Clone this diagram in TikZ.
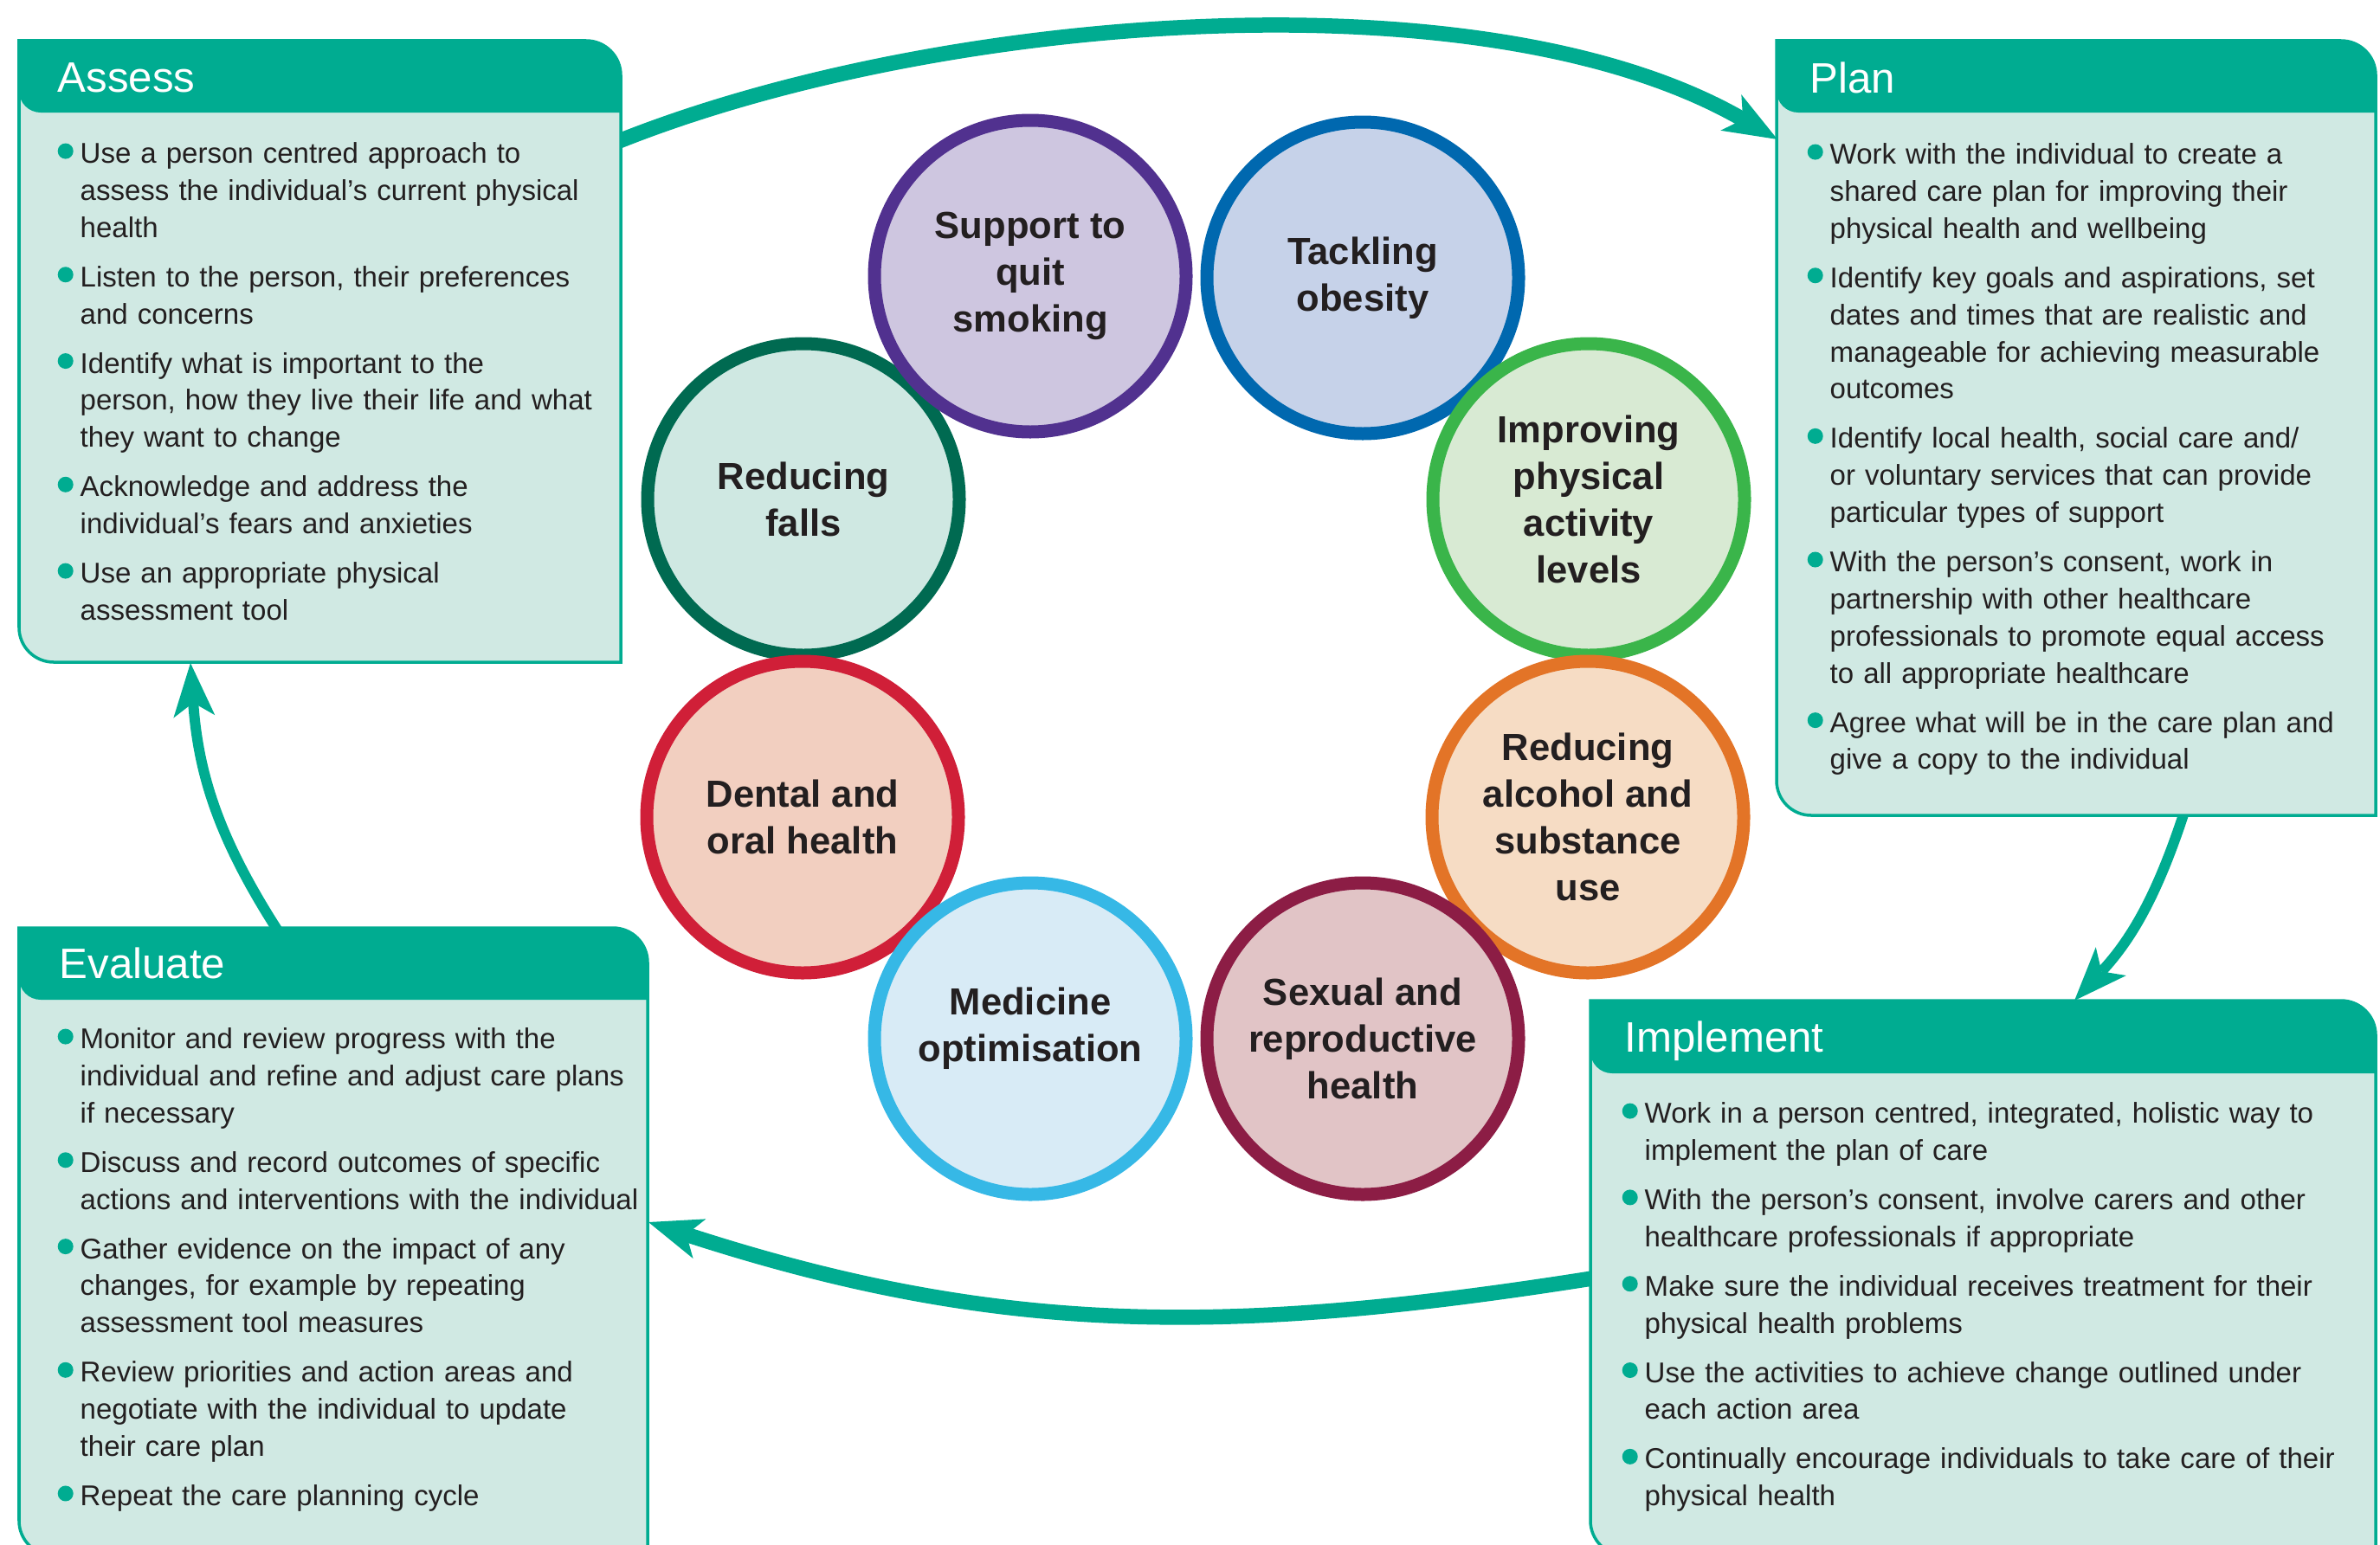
\documentclass[tikz,border=0pt]{standalone}
\usepackage{fontspec}
\setmainfont{Liberation Sans}
\usetikzlibrary{arrows.meta}

\definecolor{cycteal}{HTML}{00AC91}
\definecolor{boxfill}{HTML}{D0E9E3}
\definecolor{ink}{HTML}{231F20}
\definecolor{smokeline}{HTML}{51318F}\definecolor{smokefill}{HTML}{CEC6E0}
\definecolor{obeseline}{HTML}{0068AF}\definecolor{obesefill}{HTML}{C6D2E9}
\definecolor{activeline}{HTML}{3AB54A}\definecolor{activefill}{HTML}{D8EAD3}
\definecolor{alcoline}{HTML}{E37427}\definecolor{alcofill}{HTML}{F6DCC4}
\definecolor{sexline}{HTML}{8C1D45}\definecolor{sexfill}{HTML}{E1C4C6}
\definecolor{medline}{HTML}{36B8E6}\definecolor{medfill}{HTML}{D8EBF6}
\definecolor{dentline}{HTML}{D01F38}\definecolor{dentfill}{HTML}{F2CFC0}
\definecolor{fallline}{HTML}{006A51}\definecolor{fallfill}{HTML}{CFE8E2}

% one bullet point of a stage box
\newcommand{\pnt}[1]{\par\leftskip=0.26cm\hyphenpenalty=10000\noindent\hspace*{-0.26cm}%
  \makebox[0.26cm][l]{\tikz[baseline=-1.4mm]\fill[cycteal] (0.09,0) circle (0.09);}\strut#1\par\vspace{4pt}}

\tikzset{
  boxbody/.style={fill=boxfill, draw=cycteal, line width=1pt},
  boxhead/.style={fill=cycteal},
  stagehead/.style={font=\fontsize{14}{16}\selectfont, text=white, inner sep=0pt, anchor=base west},
  itemlist/.style={font=\fontsize{9.4}{12.2}\selectfont, text=ink, inner sep=0pt, anchor=north west},
  topic/.style={circle, line width=0.15cm, minimum size=3.6cm, inner sep=0pt, align=center,
    font=\fontsize{12.4}{15.3}\selectfont\bfseries, text=ink},
  bigarrow/.style={draw=cycteal, line width=0.175cm,
    -{Stealth[length=6.2mm, width=4.8mm, inset=1.6mm, line width=0pt]}},
  smallarrow/.style={draw=cycteal, line width=0.12cm,
    -{Stealth[length=6.2mm, width=4.8mm, inset=1.6mm, line width=0pt]}}
}

\begin{document}
\begin{tikzpicture}
\useasboundingbox (0,0) rectangle (27.49,-17.84);

% arrow ends
\coordinate (assessout) at (7.10,-1.65);
\coordinate (planin) at (20.53,-1.61);
\coordinate (planout) at (25.24,-9.35);
\coordinate (implin) at (23.96,-11.56);
\coordinate (implout) at (18.45,-14.76);
\coordinate (evalin) at (7.49,-14.12);
\coordinate (evalout) at (3.24,-10.80);
\coordinate (assessin) at (2.20,-7.66);

\draw[bigarrow] (assessout) to[out=22,in=150,looseness=0.75] (planin);
\draw[smallarrow] (planout) to[out=-108,in=47] (implin);
\draw[bigarrow] (implout) to[out=189,in=-18] (evalin);
\draw[smallarrow] (evalout) to[out=123,in=-86] (assessin);

% Assess
\filldraw[boxbody] (0.22,-0.47) -- (6.77,-0.47) arc[start angle=90,end angle=0,radius=0.4]
  -- (7.17,-7.65) -- (0.62,-7.65) arc[start angle=270,end angle=180,radius=0.4] -- cycle;
\fill[boxhead] (0.22,-0.47) -- (6.77,-0.47) arc[start angle=90,end angle=0,radius=0.4]
  -- (7.17,-1.30) -- (0.47,-1.30) arc[start angle=270,end angle=180,radius=0.25] -- cycle;
\node[stagehead] (assess) at (0.66,-1.06) {Assess};
\node[itemlist, text width=6.6cm] (assesslist) at (0.66,-1.45) {%
\pnt{Use a person centred approach to\\assess the individual’s current physical\\health}
\pnt{Listen to the person, their preferences\\and concerns}
\pnt{Identify what is important to the\\person, how they live their life and what\\they want to change}
\pnt{Acknowledge and address the\\individual’s fears and anxieties}
\pnt{Use an appropriate physical\\assessment tool}};

% Plan
\filldraw[boxbody] (20.52,-0.47) -- (27.04,-0.47) arc[start angle=90,end angle=0,radius=0.4]
  -- (27.44,-9.42) -- (20.92,-9.42) arc[start angle=270,end angle=180,radius=0.4] -- cycle;
\fill[boxhead] (20.52,-0.47) -- (27.04,-0.47) arc[start angle=90,end angle=0,radius=0.4]
  -- (27.44,-1.30) -- (20.77,-1.30) arc[start angle=270,end angle=180,radius=0.25] -- cycle;
\node[stagehead] (plan) at (20.90,-1.07) {Plan};
\node[itemlist, text width=6.6cm] (planlist) at (20.87,-1.46) {%
\pnt{Work with the individual to create a\\shared care plan for improving their\\physical health and wellbeing}
\pnt{Identify key goals and aspirations, set\\dates and times that are realistic and\\manageable for achieving measurable\\outcomes}
\pnt{Identify local health, social care and/\\or voluntary services that can provide\\particular types of support}
\pnt{With the person’s consent, work in\\partnership with other healthcare\\professionals to promote equal access\\to all appropriate healthcare}
\pnt{Agree what will be in the care plan and\\give a copy to the individual}};

% Evaluate
\filldraw[boxbody] (0.22,-10.72) -- (7.08,-10.72) arc[start angle=90,end angle=0,radius=0.4]
  -- (7.48,-17.97) -- (0.62,-17.97) arc[start angle=270,end angle=180,radius=0.4] -- cycle;
\fill[boxhead] (0.22,-10.72) -- (7.08,-10.72) arc[start angle=90,end angle=0,radius=0.4]
  -- (7.48,-11.55) -- (0.47,-11.55) arc[start angle=270,end angle=180,radius=0.25] -- cycle;
\node[stagehead] (evaluate) at (0.68,-11.30) {Evaluate};
\node[itemlist, text width=7.2cm] (evaluatelist) at (0.66,-11.68) {%
\pnt{Monitor and review progress with the\\individual and refine and adjust care plans\\if necessary}
\pnt{Discuss and record outcomes of specific\\actions and interventions with the individual}
\pnt{Gather evidence on the impact of any\\changes, for example by repeating\\assessment tool measures}
\pnt{Review priorities and action areas and\\negotiate with the individual to update\\their care plan}
\pnt{Repeat the care planning cycle}};

% Implement
\filldraw[boxbody] (18.37,-11.56) -- (27.04,-11.56) arc[start angle=90,end angle=0,radius=0.4]
  -- (27.44,-17.97) -- (18.77,-17.97) arc[start angle=270,end angle=180,radius=0.4] -- cycle;
\fill[boxhead] (18.37,-11.56) -- (27.04,-11.56) arc[start angle=90,end angle=0,radius=0.4]
  -- (27.44,-12.40) -- (18.62,-12.40) arc[start angle=270,end angle=180,radius=0.25] -- cycle;
\node[stagehead] (implement) at (18.76,-12.15) {Implement};
\node[itemlist, text width=8.8cm] (implementlist) at (18.73,-12.54) {%
\pnt{Work in a person centred, integrated, holistic way to\\implement the plan of care}
\pnt{With the person’s consent, involve carers and other\\healthcare professionals if appropriate}
\pnt{Make sure the individual receives treatment for their\\physical health problems}
\pnt{Use the activities to achieve change outlined under\\each action area}
\pnt{Continually encourage individuals to take care of their\\physical health}};

% action areas
\node[topic, draw=fallline, fill=fallfill] (falls) at (9.28,-5.77) {Reducing\\falls};
\node[topic, draw=smokeline, fill=smokefill] (smoking) at (11.90,-3.19) {Support to\\quit\\smoking};
\node[topic, draw=obeseline, fill=obesefill] (obesity) at (15.74,-3.21) {Tackling\\obesity};
\node[topic, draw=activeline, fill=activefill] (activity) at (18.35,-5.77) {Improving\\physical\\activity\\levels};
\node[topic, draw=alcoline, fill=alcofill] (alcohol) at (18.34,-9.44) {Reducing\\alcohol and\\substance\\use};
\node[topic, draw=dentline, fill=dentfill] (dental) at (9.27,-9.44) {Dental and\\oral health};
\node[topic, draw=sexline, fill=sexfill] (sexual) at (15.74,-12.00) {Sexual and\\reproductive\\health};
\node[topic, draw=medline, fill=medfill] (medicine) at (11.90,-12.00) {Medicine\\optimisation\\[-6pt]\mbox{}};
\end{tikzpicture}
\end{document}
